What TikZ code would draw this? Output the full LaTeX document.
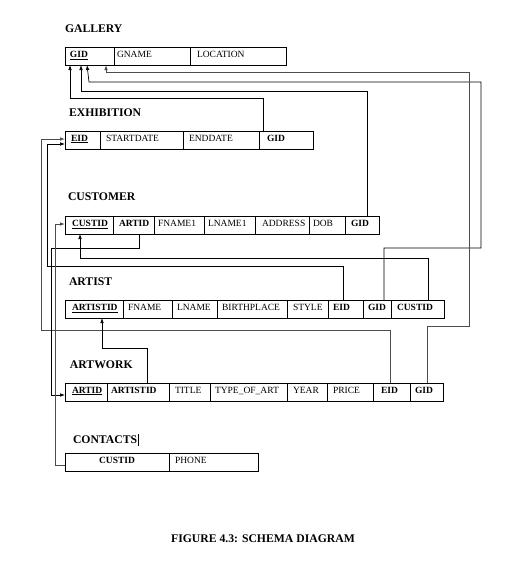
\documentclass[tikz,border=0pt]{standalone}
\usepackage{fontspec}
\setmainfont{Liberation Serif}
\usetikzlibrary{arrows.meta}
\newcommand\cellbox[3]{\makebox[#1pt][l]{\hspace*{#2pt}#3}}
\begin{document}
\begin{tikzpicture}[x=1pt,y=-1pt,
  cell/.style={draw, line width=0.7pt, anchor=north west, inner sep=0pt, outer sep=0pt, minimum height=18pt,
    text height=6.5pt, text depth=4pt, font=\fontsize{9.5}{11}\selectfont},
  ttl/.style={anchor=base west, inner sep=0pt, outer sep=0pt, font=\fontsize{11.7}{14}\selectfont\bfseries},
  conn/.style={line width=0.7pt},
  gconn/.style={line width=0.9pt, draw=black!70},
  tip/.style={-{Latex[length=5pt,width=3.6pt]}},
]
\fill[white] (0,0) rectangle (517,566);
\useasboundingbox (0,0) rectangle (517,566);

% GALLERY
\node[ttl] (tg) at (65,32) {GALLERY};
\node[cell] (g1) at (65,47) {\cellbox{49}{5}{\textbf{\underline{GID}}}};
\node[cell] (g2) at (g1.north east) {\cellbox{76}{3}{GNAME}};
\node[cell] (g3) at (g2.north east) {\cellbox{96}{7}{LOCATION}};

% EXHIBITION
\node[ttl] (te) at (69,116) {EXHIBITION};
\node[cell] (e1) at (65,131) {\cellbox{35}{6}{\textbf{\underline{EID}}}};
\node[cell] (e2) at (e1.north east) {\cellbox{83}{6}{STARTDATE}};
\node[cell] (e3) at (e2.north east) {\cellbox{76}{6}{ENDDATE}};
\node[cell] (e4) at (e3.north east) {\cellbox{54}{8}{\textbf{GID}}};

% CUSTOMER
\node[ttl] (tc) at (68,200) {CUSTOMER};
\node[cell] (c1) at (65,216) {\cellbox{48}{7}{\textbf{\underline{CUSTID}}}};
\node[cell] (c2) at (c1.north east) {\cellbox{41}{6}{\textbf{ARTID}}};
\node[cell] (c3) at (c2.north east) {\cellbox{50}{4}{FNAME1}};
\node[cell] (c4) at (c3.north east) {\cellbox{51}{4}{LNAME1}};
\node[cell] (c5) at (c4.north east) {\cellbox{54}{7}{ADDRESS}};
\node[cell] (c6) at (c5.north east) {\cellbox{36}{4}{DOB}};
\node[cell] (c7) at (c6.north east) {\cellbox{34}{6}{\textbf{GID}}};

% ARTIST
\node[ttl] (ta) at (69,285) {ARTIST};
\node[cell] (a1) at (65,300) {\cellbox{58}{7}{\textbf{\underline{ARTISTID}}}};
\node[cell] (a2) at (a1.north east) {\cellbox{49}{5}{FNAME}};
\node[cell] (a3) at (a2.north east) {\cellbox{45}{5}{LNAME}};
\node[cell] (a4) at (a3.north east) {\cellbox{70}{5}{BIRTHPLACE}};
\node[cell] (a5) at (a4.north east) {\cellbox{41}{6}{STYLE}};
\node[cell] (a6) at (a5.north east) {\cellbox{35}{5}{\textbf{EID}}};
\node[cell] (a7) at (a6.north east) {\cellbox{28}{5}{\textbf{GID}}};
\node[cell] (a8) at (a7.north east) {\cellbox{53}{6}{\textbf{CUSTID}}};

% ARTWORK
\node[ttl] (tw) at (70,368) {ARTWORK};
\node[cell] (w1) at (65,383) {\cellbox{42}{7}{\textbf{\underline{ARTID}}}};
\node[cell] (w2) at (w1.north east) {\cellbox{62}{4}{\textbf{ARTISTID}}};
\node[cell] (w3) at (w2.north east) {\cellbox{41}{6}{TITLE}};
\node[cell] (w4) at (w3.north east) {\cellbox{77}{5}{TYPE\_OF\_ART}};
\node[cell] (w5) at (w4.north east) {\cellbox{40}{6}{YEAR}};
\node[cell] (w6) at (w5.north east) {\cellbox{46}{6}{PRICE}};
\node[cell] (w7) at (w6.north east) {\cellbox{37}{8}{\textbf{EID}}};
\node[cell] (w8) at (w7.north east) {\cellbox{33}{5}{\textbf{GID}}};

% CONTACTS
\node[ttl] (tk) at (73,443) {CONTACTS};
\draw[line width=0.6pt] ([xshift=0.8pt,yshift=1pt]tk.north east) -- ([xshift=0.8pt,yshift=-2.5pt]tk.south east);
\node[cell] (k1) at (65,453) {\makebox[104pt]{\textbf{CUSTID}}};
\node[cell] (k2) at (k1.north east) {\cellbox{89}{6}{PHONE}};

% caption
\node[anchor=base, inner sep=0pt, font=\fontsize{11.7}{14}\selectfont\bfseries] (cap) at (263,542) {FIGURE 4.3: SCHEMA DIAGRAM};

% connectors to GALLERY.GID
\draw[conn,tip] ([xshift=4pt]e4.north west) -- ++(0,-33) -| ([xshift=5pt]g1.south west);
\draw[conn,tip] ([xshift=22pt]c7.north west) -- ++(0,-125) -| ([xshift=16pt]g1.south west);
\draw[conn,tip] ([xshift=21pt]a7.north west) -- ++(0,-52) -- ++(97,0) -- ++(0,-166) -- ++(-392,0) -- ([xshift=22pt]g1.south west);
\draw[gconn,tip] ([xshift=17pt]w8.north west) -- ++(0,-57) -- ++(42,0) -- ++(0,-254) -| ([xshift=41pt]g1.south west);

% connectors to EXHIBITION.EID
\draw[gconn,tip] ([xshift=17pt]w7.north west) -- ++(0,-53) -- ++(-349,0) |- ([yshift=1pt]e1.west);
\draw[conn,tip] ([xshift=15pt]a6.north west) -- ++(0,-34) -- ++(-296,0) |- ([yshift=-4pt]e1.west);

% CUSTOMER.ARTID -> ARTWORK.ARTID
\draw[conn,tip] ([xshift=26pt]c2.south west) -- ++(0,14) -- ++(-88,0) |- ([yshift=-3pt]w1.west);

% ARTIST.CUSTID -> CUSTOMER.CUSTID
\draw[conn,tip] ([xshift=37pt]a8.north west) -- ++(0,-42) -| ([xshift=15pt]c1.south west);

% CONTACTS.CUSTID -> CUSTOMER.CUSTID
\draw[gconn,tip] ([yshift=-3pt]k1.west) -- ++(-10,0) |- ([yshift=1pt]c1.west);

% ARTWORK.ARTISTID -> ARTIST.ARTISTID
\draw[conn,tip] ([xshift=40pt]w2.north west) -- ++(0,-35) -| ([xshift=37pt]a1.south west);
\end{tikzpicture}
\end{document}
